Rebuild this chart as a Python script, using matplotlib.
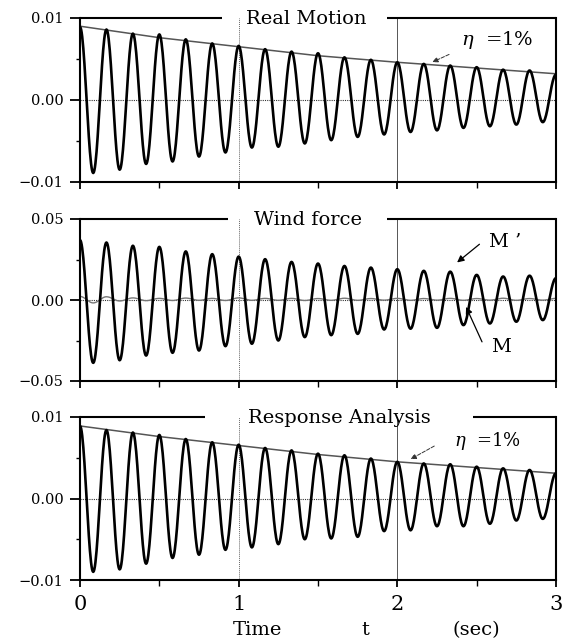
import numpy as np
import matplotlib
matplotlib.use("Agg")
import matplotlib.pyplot as plt
from matplotlib.ticker import FixedLocator, FixedFormatter

plt.rcParams['font.family'] = ['DejaVu Serif']
plt.rcParams['mathtext.fontset'] = 'dejavuserif'

# ---------------- data ----------------
# times of successive extrema (peak, trough, peak, ...), seconds
extremum_times = np.arange(37) / 12.0

real_peaks = [0.0089, 0.0086, 0.0081, 0.0080, 0.0074, 0.0069, 0.0066, 0.0062, 0.0059, 0.0057,
              0.0052, 0.0049, 0.0046, 0.0044, 0.0042, 0.0040, 0.0037, 0.0036, 0.0031]
real_troughs = [-0.0089, -0.0085, -0.0078, -0.0075, -0.0069, -0.0064, -0.0058, -0.0057, -0.0053,
                -0.0049, -0.0045, -0.0042, -0.0039, -0.0037, -0.0034, -0.0032, -0.0030, -0.0027]

windM2_peaks = [0.0370, 0.0355, 0.0335, 0.0328, 0.0300, 0.0283, 0.0268, 0.0252, 0.0235, 0.0225,
                0.0210, 0.0200, 0.0190, 0.0180, 0.0175, 0.0155, 0.0145, 0.0150, 0.0135]
windM2_troughs = [-0.0388, -0.0372, -0.0343, -0.0326, -0.0312, -0.0285, -0.0270, -0.0250, -0.0229,
                  -0.0217, -0.0209, -0.0182, -0.0177, -0.0172, -0.0155, -0.0145, -0.0134, -0.0124]

windM_peaks = [0.0022, 0.0020, 0.0013, 0.0010, 0.0012, 0.0010, 0.0013, 0.0010, 0.0010, 0.0009,
               0.0011, 0.0009, 0.0010, 0.0009, 0.0010, 0.0009, 0.0011, 0.0009, 0.0010]
windM_troughs = [-0.0018, -0.0006, -0.0004, -0.0003, -0.0002, -0.0003, -0.0002, -0.0002, -0.0003,
                 -0.0002, -0.0002, -0.0001, -0.0002, -0.0001, -0.0002, -0.0001, -0.0002, -0.0001]

resp_peaks = [0.0089, 0.0084, 0.0081, 0.0078, 0.0073, 0.0069, 0.0066, 0.0062, 0.0059, 0.0055,
              0.0053, 0.0049, 0.0045, 0.0043, 0.0042, 0.0039, 0.0037, 0.0035, 0.0031]
resp_troughs = [-0.0090, -0.0087, -0.0080, -0.0073, -0.0069, -0.0063, -0.0060, -0.0056, -0.0050,
                -0.0049, -0.0047, -0.0040, -0.0039, -0.0034, -0.0034, -0.0031, -0.0027, -0.0025]

envelope_t = [0.0, 0.5, 1.0, 1.5, 2.0, 2.5, 3.0]
real_envelope = [0.0090, 0.0076, 0.0065, 0.0054, 0.0046, 0.0039, 0.0032]
resp_envelope = [0.0089, 0.0076, 0.0065, 0.0054, 0.0045, 0.0038, 0.0031]

panel_titles = ["Real Motion", "Wind force", "Response Analysis"]
x_ticks = [0, 1, 2, 3]
x_ticklabels = ["0", "1", "2", "3"]
ytick_small = [-0.01, 0.0, 0.01]
ytick_small_labels = ["\u22120.01", "0.00", "0.01"]
ytick_big = [-0.05, 0.0, 0.05]
ytick_big_labels = ["\u22120.05", "0.00", "0.05"]


def interleave(peaks, troughs):
    vals = []
    for i in range(len(troughs)):
        vals += [peaks[i], troughs[i]]
    vals.append(peaks[-1])
    return np.array(vals)


def smooth_wave(times, values, n=24):
    xs, ys = [], []
    for i in range(len(times) - 1):
        s = np.linspace(0, 1, n, endpoint=False)
        xs.append(times[i] + s * (times[i + 1] - times[i]))
        ys.append(values[i] + (values[i + 1] - values[i]) * (1 - np.cos(np.pi * s)) / 2)
    xs.append([times[-1]])
    ys.append([values[-1]])
    return np.concatenate(xs), np.concatenate(ys)


# ---------------- figure ----------------
fig = plt.figure(figsize=(5.69, 6.42), dpi=100)
left, width = 80 / 569, 476 / 569
boxes = [(18, 182), (219, 381), (417, 580)]
axes = []
for top, bot in boxes:
    ax = fig.add_axes([left, 1 - bot / 642, width, (bot - top) / 642])
    axes.append(ax)

title_pos = [0.475, 0.478, 0.544]
title_gaps = [(0.298, 0.645), (0.311, 0.645), (0.263, 0.826)]

for i, ax in enumerate(axes):
    ax.set_xlim(0, 3)
    lim = 0.05 if i == 1 else 0.01
    ax.set_ylim(-lim, lim)
    for s in ['left', 'right', 'bottom']:
        ax.spines[s].set_linewidth(1.5)
    ax.spines['top'].set_visible(False)
    g0, g1 = title_gaps[i]
    ax.plot([0, g0], [1, 1], color='black', lw=1.5, transform=ax.transAxes, clip_on=False,
            solid_capstyle='butt')
    ax.plot([g1, 1], [1, 1], color='black', lw=1.5, transform=ax.transAxes, clip_on=False,
            solid_capstyle='butt')
    ax.annotate(panel_titles[i], xy=(title_pos[i], 1), xycoords='axes fraction',
                xytext=(0, -4), textcoords='offset points', ha='center', va='baseline',
                fontsize=14)

    ax.xaxis.set_major_locator(FixedLocator(x_ticks))
    ax.xaxis.set_minor_locator(FixedLocator([0.5, 1.5, 2.5]))
    if i == 2:
        ax.xaxis.set_major_formatter(FixedFormatter(x_ticklabels))
    else:
        ax.set_xticklabels([])
    if i == 1:
        ax.yaxis.set_major_locator(FixedLocator(ytick_big))
        ax.yaxis.set_major_formatter(FixedFormatter(ytick_big_labels))
        ax.yaxis.set_minor_locator(FixedLocator([-0.025, 0.025]))
    else:
        ax.yaxis.set_major_locator(FixedLocator(ytick_small))
        ax.yaxis.set_major_formatter(FixedFormatter(ytick_small_labels))
        ax.yaxis.set_minor_locator(FixedLocator([-0.005, 0.005]))
    ax.tick_params(axis='y', which='major', direction='out', length=7, width=1.3,
                   labelsize=10.5, pad=5)
    ax.tick_params(axis='y', which='minor', direction='out', length=3, width=1.0)
    ax.tick_params(axis='x', which='major', direction='out', length=5, width=1.3,
                   labelsize=15, pad=6)
    ax.tick_params(axis='x', which='minor', direction='out', length=4, width=1.0)

    # reference lines
    ax.axhline(0, color='#333333', lw=0.8, ls=(0, (1, 1)), zorder=1)
    ax.axvline(1, color='#666666', lw=0.7, ls=(0, (1, 1)), zorder=1)
    ax.axvline(2, color='#555555', lw=0.7, zorder=1)

# top panel
x, y = smooth_wave(extremum_times, interleave(real_peaks, real_troughs))
axes[0].plot(x, y, color='black', lw=1.9, zorder=3)
axes[0].plot(envelope_t, real_envelope, color='#555555', lw=1.1, zorder=2)
axes[0].annotate('', xy=(2.205, 0.00448), xytext=(2.342, 0.0057),
                 arrowprops=dict(arrowstyle='-|>', color='#333333', lw=0.7, ls='--',
                                 mutation_scale=8))
axes[0].text(2.40, 0.0073, r'$\eta$  =1%', fontsize=14, va='center', ha='left')

# middle panel
x, y = smooth_wave(extremum_times, interleave(windM_peaks, windM_troughs))
axes[1].plot(x, y, color='#777777', lw=1.0, zorder=2)
x, y = smooth_wave(extremum_times, interleave(windM2_peaks, windM2_troughs))
axes[1].plot(x, y, color='black', lw=1.9, zorder=3)
axes[1].annotate('', xy=(2.363, 0.0221), xytext=(2.531, 0.0355),
                 arrowprops=dict(arrowstyle='-|>', color='black', lw=0.9, mutation_scale=10))
axes[1].text(2.58, 0.0355, 'M \u2019', fontsize=14, va='center', ha='left')
axes[1].annotate('', xy=(2.426, -0.0027), xytext=(2.541, -0.0274),
                 arrowprops=dict(arrowstyle='-|>', color='black', lw=0.9, mutation_scale=10))
axes[1].text(2.59, -0.029, 'M', fontsize=14, va='center', ha='left')

# bottom panel
x, y = smooth_wave(extremum_times, interleave(resp_peaks, resp_troughs))
axes[2].plot(x, y, color='black', lw=1.9, zorder=3)
axes[2].plot(envelope_t, resp_envelope, color='#555555', lw=1.1, zorder=2)
axes[2].annotate('', xy=(2.069, 0.00467), xytext=(2.248, 0.0066),
                 arrowprops=dict(arrowstyle='-|>', color='#333333', lw=0.7, ls='--',
                                 mutation_scale=8))
axes[2].text(2.36, 0.0071, r'$\eta$  =1%', fontsize=13, va='center', ha='left')

# x axis label pieces
fig.text(257 / 569, 1 - 630 / 642, 'Time', fontsize=14, ha='center', va='center')
fig.text(365 / 569, 1 - 630 / 642, 't', fontsize=14, ha='center', va='center')
fig.text(476 / 569, 1 - 630 / 642, '(sec)', fontsize=14, ha='center', va='center')

fig.savefig('out.png', dpi=100)
